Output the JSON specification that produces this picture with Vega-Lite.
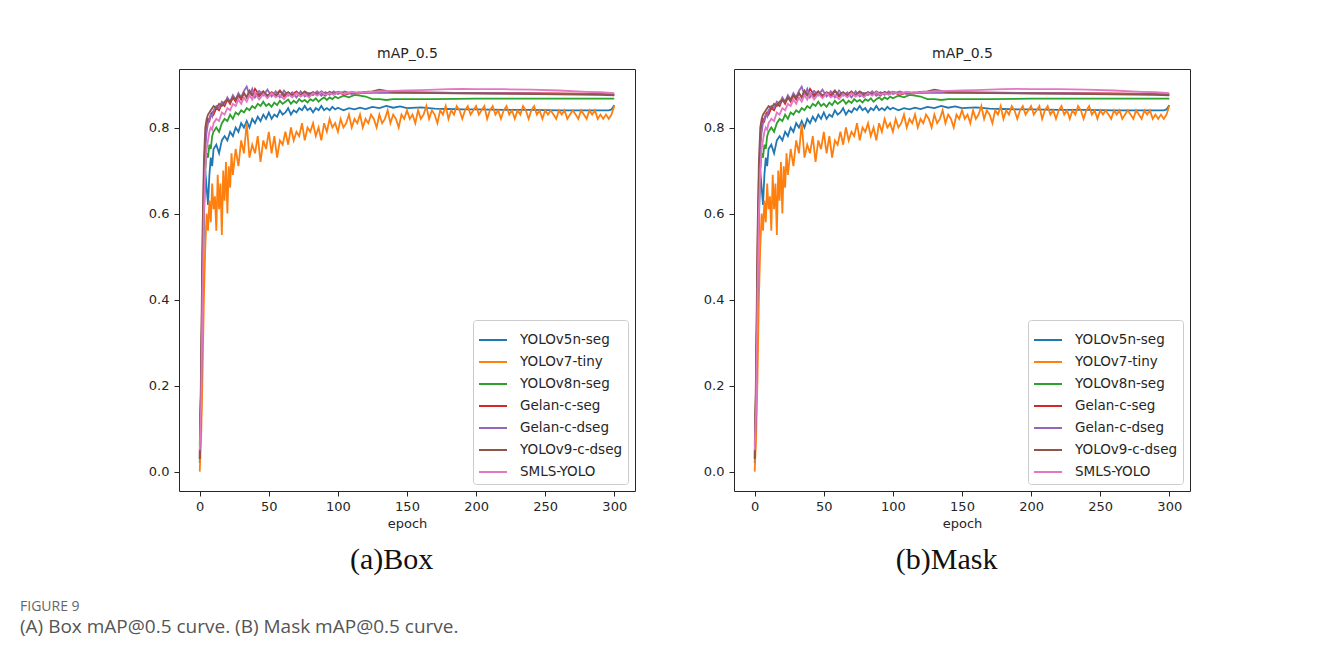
{
"$schema": "https://vega.github.io/schema/vega-lite/v6.json",
"background": "white",
"padding": {"left": 20, "top": 45, "right": 10, "bottom": 10},
"datasets": {
"models": [
{"s":"A","model":"YOLOv5n-seg"},{"s":"B","model":"YOLOv7-tiny"},{"s":"C","model":"YOLOv8n-seg"},{"s":"D","model":"Gelan-c-seg"},{"s":"E","model":"Gelan-c-dseg"},{"s":"F","model":"YOLOv9-c-dseg"},{"s":"G","model":"SMLS-YOLO"}
],
"curves": [
{"s":"A","e":0,"v":0.02},{"s":"A","e":1,"v":0.12},{"s":"A","e":2,"v":0.35},{"s":"A","e":3,"v":0.58},{"s":"A","e":4,"v":0.70},{"s":"A","e":5,"v":0.66},{"s":"A","e":6,"v":0.62},{"s":"A","e":7,"v":0.69},{"s":"A","e":8,"v":0.73},{"s":"A","e":9,"v":0.71},{"s":"A","e":10,"v":0.75},{"s":"A","e":12,"v":0.76},{"s":"A","e":14,"v":0.74},{"s":"A","e":16,"v":0.77},{"s":"A","e":18,"v":0.78},{"s":"A","e":20,"v":0.77},{"s":"A","e":22,"v":0.79},{"s":"A","e":24,"v":0.78},{"s":"A","e":26,"v":0.80},{"s":"A","e":28,"v":0.79},{"s":"A","e":30,"v":0.81},{"s":"A","e":32,"v":0.80},{"s":"A","e":34,"v":0.815},{"s":"A","e":36,"v":0.80},{"s":"A","e":38,"v":0.82},{"s":"A","e":40,"v":0.81},{"s":"A","e":42,"v":0.825},{"s":"A","e":44,"v":0.815},{"s":"A","e":46,"v":0.83},{"s":"A","e":48,"v":0.82},{"s":"A","e":50,"v":0.835},{"s":"A","e":52,"v":0.82},{"s":"A","e":54,"v":0.83},{"s":"A","e":56,"v":0.825},{"s":"A","e":58,"v":0.84},{"s":"A","e":60,"v":0.83},{"s":"A","e":62,"v":0.835},{"s":"A","e":64,"v":0.845},{"s":"A","e":66,"v":0.83},{"s":"A","e":68,"v":0.84},{"s":"A","e":70,"v":0.835},{"s":"A","e":72,"v":0.845},{"s":"A","e":74,"v":0.84},{"s":"A","e":76,"v":0.85},{"s":"A","e":78,"v":0.84},{"s":"A","e":80,"v":0.845},{"s":"A","e":82,"v":0.835},{"s":"A","e":84,"v":0.845},{"s":"A","e":86,"v":0.84},{"s":"A","e":88,"v":0.85},{"s":"A","e":90,"v":0.84},{"s":"A","e":92,"v":0.845},{"s":"A","e":94,"v":0.84},{"s":"A","e":96,"v":0.848},{"s":"A","e":98,"v":0.842},{"s":"A","e":100,"v":0.846},{"s":"A","e":104,"v":0.84},{"s":"A","e":108,"v":0.845},{"s":"A","e":112,"v":0.842},{"s":"A","e":116,"v":0.846},{"s":"A","e":120,"v":0.843},{"s":"A","e":125,"v":0.848},{"s":"A","e":130,"v":0.845},{"s":"A","e":135,"v":0.85},{"s":"A","e":140,"v":0.846},{"s":"A","e":145,"v":0.849},{"s":"A","e":150,"v":0.845},{"s":"A","e":160,"v":0.847},{"s":"A","e":170,"v":0.844},{"s":"A","e":180,"v":0.843},{"s":"A","e":190,"v":0.842},{"s":"A","e":200,"v":0.842},{"s":"A","e":220,"v":0.841},{"s":"A","e":240,"v":0.841},{"s":"A","e":260,"v":0.84},{"s":"A","e":280,"v":0.84},{"s":"A","e":296,"v":0.84},{"s":"A","e":298,"v":0.842},{"s":"A","e":300,"v":0.852},
{"s":"B","e":0,"v":0.0},{"s":"B","e":1,"v":0.08},{"s":"B","e":2,"v":0.22},{"s":"B","e":3,"v":0.40},{"s":"B","e":4,"v":0.52},{"s":"B","e":5,"v":0.60},{"s":"B","e":6,"v":0.56},{"s":"B","e":7,"v":0.63},{"s":"B","e":8,"v":0.58},{"s":"B","e":9,"v":0.67},{"s":"B","e":10,"v":0.61},{"s":"B","e":11,"v":0.64},{"s":"B","e":12,"v":0.56},{"s":"B","e":13,"v":0.69},{"s":"B","e":14,"v":0.61},{"s":"B","e":15,"v":0.67},{"s":"B","e":16,"v":0.55},{"s":"B","e":17,"v":0.70},{"s":"B","e":18,"v":0.63},{"s":"B","e":19,"v":0.72},{"s":"B","e":20,"v":0.60},{"s":"B","e":21,"v":0.71},{"s":"B","e":22,"v":0.66},{"s":"B","e":23,"v":0.74},{"s":"B","e":24,"v":0.69},{"s":"B","e":26,"v":0.75},{"s":"B","e":28,"v":0.71},{"s":"B","e":30,"v":0.77},{"s":"B","e":32,"v":0.74},{"s":"B","e":34,"v":0.81},{"s":"B","e":36,"v":0.73},{"s":"B","e":38,"v":0.76},{"s":"B","e":40,"v":0.74},{"s":"B","e":42,"v":0.78},{"s":"B","e":44,"v":0.72},{"s":"B","e":46,"v":0.77},{"s":"B","e":48,"v":0.75},{"s":"B","e":50,"v":0.79},{"s":"B","e":52,"v":0.74},{"s":"B","e":54,"v":0.78},{"s":"B","e":56,"v":0.73},{"s":"B","e":58,"v":0.77},{"s":"B","e":60,"v":0.76},{"s":"B","e":62,"v":0.79},{"s":"B","e":64,"v":0.76},{"s":"B","e":66,"v":0.80},{"s":"B","e":68,"v":0.77},{"s":"B","e":70,"v":0.79},{"s":"B","e":72,"v":0.78},{"s":"B","e":74,"v":0.81},{"s":"B","e":76,"v":0.77},{"s":"B","e":78,"v":0.80},{"s":"B","e":80,"v":0.79},{"s":"B","e":82,"v":0.81},{"s":"B","e":84,"v":0.78},{"s":"B","e":86,"v":0.80},{"s":"B","e":88,"v":0.77},{"s":"B","e":90,"v":0.81},{"s":"B","e":92,"v":0.79},{"s":"B","e":94,"v":0.82},{"s":"B","e":96,"v":0.80},{"s":"B","e":98,"v":0.81},{"s":"B","e":100,"v":0.79},{"s":"B","e":102,"v":0.82},{"s":"B","e":104,"v":0.80},{"s":"B","e":106,"v":0.81},{"s":"B","e":108,"v":0.83},{"s":"B","e":110,"v":0.80},{"s":"B","e":112,"v":0.82},{"s":"B","e":114,"v":0.81},{"s":"B","e":116,"v":0.83},{"s":"B","e":118,"v":0.80},{"s":"B","e":120,"v":0.82},{"s":"B","e":122,"v":0.81},{"s":"B","e":124,"v":0.83},{"s":"B","e":126,"v":0.82},{"s":"B","e":128,"v":0.80},{"s":"B","e":130,"v":0.83},{"s":"B","e":132,"v":0.81},{"s":"B","e":134,"v":0.82},{"s":"B","e":136,"v":0.84},{"s":"B","e":138,"v":0.81},{"s":"B","e":140,"v":0.83},{"s":"B","e":142,"v":0.82},{"s":"B","e":144,"v":0.80},{"s":"B","e":146,"v":0.83},{"s":"B","e":148,"v":0.82},{"s":"B","e":150,"v":0.84},{"s":"B","e":152,"v":0.82},{"s":"B","e":154,"v":0.83},{"s":"B","e":156,"v":0.81},{"s":"B","e":158,"v":0.84},{"s":"B","e":160,"v":0.82},{"s":"B","e":162,"v":0.83},{"s":"B","e":164,"v":0.85},{"s":"B","e":166,"v":0.82},{"s":"B","e":168,"v":0.84},{"s":"B","e":170,"v":0.83},{"s":"B","e":172,"v":0.81},{"s":"B","e":174,"v":0.84},{"s":"B","e":176,"v":0.83},{"s":"B","e":178,"v":0.85},{"s":"B","e":180,"v":0.82},{"s":"B","e":182,"v":0.84},{"s":"B","e":184,"v":0.83},{"s":"B","e":186,"v":0.85},{"s":"B","e":188,"v":0.84},{"s":"B","e":190,"v":0.82},{"s":"B","e":192,"v":0.84},{"s":"B","e":194,"v":0.85},{"s":"B","e":196,"v":0.83},{"s":"B","e":198,"v":0.84},{"s":"B","e":200,"v":0.85},{"s":"B","e":202,"v":0.83},{"s":"B","e":204,"v":0.84},{"s":"B","e":206,"v":0.85},{"s":"B","e":208,"v":0.82},{"s":"B","e":210,"v":0.84},{"s":"B","e":212,"v":0.85},{"s":"B","e":214,"v":0.83},{"s":"B","e":216,"v":0.84},{"s":"B","e":218,"v":0.82},{"s":"B","e":220,"v":0.84},{"s":"B","e":222,"v":0.85},{"s":"B","e":224,"v":0.83},{"s":"B","e":226,"v":0.84},{"s":"B","e":228,"v":0.82},{"s":"B","e":230,"v":0.84},{"s":"B","e":232,"v":0.83},{"s":"B","e":234,"v":0.85},{"s":"B","e":236,"v":0.84},{"s":"B","e":238,"v":0.82},{"s":"B","e":240,"v":0.84},{"s":"B","e":242,"v":0.85},{"s":"B","e":244,"v":0.83},{"s":"B","e":246,"v":0.84},{"s":"B","e":248,"v":0.82},{"s":"B","e":250,"v":0.84},{"s":"B","e":252,"v":0.83},{"s":"B","e":254,"v":0.84},{"s":"B","e":256,"v":0.83},{"s":"B","e":258,"v":0.82},{"s":"B","e":260,"v":0.84},{"s":"B","e":262,"v":0.83},{"s":"B","e":264,"v":0.84},{"s":"B","e":266,"v":0.82},{"s":"B","e":268,"v":0.83},{"s":"B","e":270,"v":0.84},{"s":"B","e":272,"v":0.83},{"s":"B","e":274,"v":0.82},{"s":"B","e":276,"v":0.84},{"s":"B","e":278,"v":0.83},{"s":"B","e":280,"v":0.82},{"s":"B","e":282,"v":0.84},{"s":"B","e":284,"v":0.83},{"s":"B","e":286,"v":0.84},{"s":"B","e":288,"v":0.82},{"s":"B","e":290,"v":0.83},{"s":"B","e":292,"v":0.82},{"s":"B","e":294,"v":0.83},{"s":"B","e":296,"v":0.82},{"s":"B","e":298,"v":0.83},{"s":"B","e":300,"v":0.85},
{"s":"C","e":0,"v":0.06},{"s":"C","e":1,"v":0.20},{"s":"C","e":2,"v":0.45},{"s":"C","e":3,"v":0.62},{"s":"C","e":4,"v":0.70},{"s":"C","e":5,"v":0.74},{"s":"C","e":6,"v":0.73},{"s":"C","e":7,"v":0.76},{"s":"C","e":8,"v":0.75},{"s":"C","e":9,"v":0.78},{"s":"C","e":10,"v":0.79},{"s":"C","e":12,"v":0.80},{"s":"C","e":14,"v":0.79},{"s":"C","e":16,"v":0.81},{"s":"C","e":18,"v":0.82},{"s":"C","e":20,"v":0.815},{"s":"C","e":22,"v":0.83},{"s":"C","e":24,"v":0.82},{"s":"C","e":26,"v":0.835},{"s":"C","e":28,"v":0.83},{"s":"C","e":30,"v":0.84},{"s":"C","e":32,"v":0.835},{"s":"C","e":34,"v":0.845},{"s":"C","e":36,"v":0.84},{"s":"C","e":38,"v":0.85},{"s":"C","e":40,"v":0.845},{"s":"C","e":42,"v":0.855},{"s":"C","e":44,"v":0.85},{"s":"C","e":46,"v":0.86},{"s":"C","e":48,"v":0.85},{"s":"C","e":50,"v":0.855},{"s":"C","e":52,"v":0.848},{"s":"C","e":54,"v":0.858},{"s":"C","e":56,"v":0.852},{"s":"C","e":58,"v":0.862},{"s":"C","e":60,"v":0.855},{"s":"C","e":62,"v":0.86},{"s":"C","e":64,"v":0.865},{"s":"C","e":66,"v":0.855},{"s":"C","e":68,"v":0.862},{"s":"C","e":70,"v":0.857},{"s":"C","e":72,"v":0.866},{"s":"C","e":74,"v":0.86},{"s":"C","e":76,"v":0.864},{"s":"C","e":78,"v":0.858},{"s":"C","e":80,"v":0.866},{"s":"C","e":82,"v":0.862},{"s":"C","e":84,"v":0.868},{"s":"C","e":86,"v":0.86},{"s":"C","e":88,"v":0.866},{"s":"C","e":90,"v":0.87},{"s":"C","e":92,"v":0.864},{"s":"C","e":94,"v":0.87},{"s":"C","e":96,"v":0.866},{"s":"C","e":98,"v":0.872},{"s":"C","e":100,"v":0.868},{"s":"C","e":104,"v":0.874},{"s":"C","e":108,"v":0.87},{"s":"C","e":112,"v":0.876},{"s":"C","e":116,"v":0.874},{"s":"C","e":120,"v":0.872},{"s":"C","e":125,"v":0.866},{"s":"C","e":130,"v":0.866},{"s":"C","e":135,"v":0.864},{"s":"C","e":140,"v":0.866},{"s":"C","e":150,"v":0.866},{"s":"C","e":170,"v":0.866},{"s":"C","e":200,"v":0.867},{"s":"C","e":230,"v":0.867},{"s":"C","e":260,"v":0.867},{"s":"C","e":300,"v":0.867},
{"s":"D","e":0,"v":0.03},{"s":"D","e":1,"v":0.20},{"s":"D","e":2,"v":0.50},{"s":"D","e":3,"v":0.68},{"s":"D","e":4,"v":0.77},{"s":"D","e":5,"v":0.80},{"s":"D","e":6,"v":0.82},{"s":"D","e":7,"v":0.815},{"s":"D","e":8,"v":0.83},{"s":"D","e":9,"v":0.835},{"s":"D","e":10,"v":0.83},{"s":"D","e":12,"v":0.845},{"s":"D","e":14,"v":0.84},{"s":"D","e":16,"v":0.855},{"s":"D","e":18,"v":0.85},{"s":"D","e":20,"v":0.865},{"s":"D","e":22,"v":0.855},{"s":"D","e":24,"v":0.87},{"s":"D","e":26,"v":0.86},{"s":"D","e":28,"v":0.875},{"s":"D","e":30,"v":0.865},{"s":"D","e":32,"v":0.88},{"s":"D","e":34,"v":0.87},{"s":"D","e":36,"v":0.885},{"s":"D","e":38,"v":0.875},{"s":"D","e":40,"v":0.89},{"s":"D","e":43,"v":0.876},{"s":"D","e":46,"v":0.884},{"s":"D","e":49,"v":0.872},{"s":"D","e":52,"v":0.882},{"s":"D","e":55,"v":0.876},{"s":"D","e":58,"v":0.886},{"s":"D","e":61,"v":0.872},{"s":"D","e":64,"v":0.88},{"s":"D","e":67,"v":0.876},{"s":"D","e":70,"v":0.884},{"s":"D","e":73,"v":0.874},{"s":"D","e":76,"v":0.88},{"s":"D","e":79,"v":0.872},{"s":"D","e":82,"v":0.882},{"s":"D","e":85,"v":0.878},{"s":"D","e":88,"v":0.88},{"s":"D","e":91,"v":0.874},{"s":"D","e":94,"v":0.883},{"s":"D","e":97,"v":0.877},{"s":"D","e":100,"v":0.882},{"s":"D","e":105,"v":0.876},{"s":"D","e":110,"v":0.881},{"s":"D","e":115,"v":0.879},{"s":"D","e":120,"v":0.882},{"s":"D","e":130,"v":0.881},{"s":"D","e":140,"v":0.882},{"s":"D","e":150,"v":0.881},{"s":"D","e":170,"v":0.881},{"s":"D","e":200,"v":0.88},{"s":"D","e":230,"v":0.88},{"s":"D","e":260,"v":0.879},{"s":"D","e":290,"v":0.878},{"s":"D","e":300,"v":0.877},
{"s":"E","e":0,"v":0.04},{"s":"E","e":1,"v":0.18},{"s":"E","e":2,"v":0.45},{"s":"E","e":3,"v":0.65},{"s":"E","e":4,"v":0.75},{"s":"E","e":5,"v":0.79},{"s":"E","e":6,"v":0.81},{"s":"E","e":7,"v":0.82},{"s":"E","e":8,"v":0.83},{"s":"E","e":9,"v":0.825},{"s":"E","e":10,"v":0.84},{"s":"E","e":12,"v":0.85},{"s":"E","e":14,"v":0.845},{"s":"E","e":16,"v":0.86},{"s":"E","e":18,"v":0.855},{"s":"E","e":20,"v":0.87},{"s":"E","e":22,"v":0.86},{"s":"E","e":24,"v":0.875},{"s":"E","e":26,"v":0.865},{"s":"E","e":28,"v":0.88},{"s":"E","e":30,"v":0.87},{"s":"E","e":32,"v":0.885},{"s":"E","e":34,"v":0.895},{"s":"E","e":36,"v":0.875},{"s":"E","e":38,"v":0.89},{"s":"E","e":40,"v":0.87},{"s":"E","e":43,"v":0.885},{"s":"E","e":46,"v":0.875},{"s":"E","e":49,"v":0.888},{"s":"E","e":52,"v":0.872},{"s":"E","e":55,"v":0.884},{"s":"E","e":58,"v":0.87},{"s":"E","e":61,"v":0.886},{"s":"E","e":64,"v":0.874},{"s":"E","e":67,"v":0.882},{"s":"E","e":70,"v":0.87},{"s":"E","e":73,"v":0.884},{"s":"E","e":76,"v":0.872},{"s":"E","e":79,"v":0.88},{"s":"E","e":82,"v":0.875},{"s":"E","e":85,"v":0.884},{"s":"E","e":88,"v":0.874},{"s":"E","e":91,"v":0.882},{"s":"E","e":94,"v":0.876},{"s":"E","e":97,"v":0.884},{"s":"E","e":100,"v":0.878},{"s":"E","e":105,"v":0.884},{"s":"E","e":110,"v":0.878},{"s":"E","e":115,"v":0.882},{"s":"E","e":120,"v":0.88},{"s":"E","e":130,"v":0.882},{"s":"E","e":140,"v":0.881},{"s":"E","e":150,"v":0.882},{"s":"E","e":170,"v":0.881},{"s":"E","e":200,"v":0.88},{"s":"E","e":230,"v":0.879},{"s":"E","e":260,"v":0.878},{"s":"E","e":290,"v":0.877},{"s":"E","e":300,"v":0.876},
{"s":"F","e":0,"v":0.03},{"s":"F","e":1,"v":0.25},{"s":"F","e":2,"v":0.55},{"s":"F","e":3,"v":0.72},{"s":"F","e":4,"v":0.80},{"s":"F","e":5,"v":0.82},{"s":"F","e":6,"v":0.83},{"s":"F","e":7,"v":0.835},{"s":"F","e":8,"v":0.84},{"s":"F","e":9,"v":0.845},{"s":"F","e":10,"v":0.85},{"s":"F","e":12,"v":0.845},{"s":"F","e":14,"v":0.855},{"s":"F","e":16,"v":0.85},{"s":"F","e":18,"v":0.86},{"s":"F","e":20,"v":0.865},{"s":"F","e":22,"v":0.86},{"s":"F","e":24,"v":0.87},{"s":"F","e":26,"v":0.865},{"s":"F","e":28,"v":0.875},{"s":"F","e":30,"v":0.87},{"s":"F","e":32,"v":0.88},{"s":"F","e":34,"v":0.87},{"s":"F","e":36,"v":0.885},{"s":"F","e":38,"v":0.875},{"s":"F","e":40,"v":0.88},{"s":"F","e":43,"v":0.872},{"s":"F","e":46,"v":0.882},{"s":"F","e":49,"v":0.875},{"s":"F","e":52,"v":0.88},{"s":"F","e":55,"v":0.872},{"s":"F","e":58,"v":0.884},{"s":"F","e":61,"v":0.876},{"s":"F","e":64,"v":0.882},{"s":"F","e":67,"v":0.874},{"s":"F","e":70,"v":0.88},{"s":"F","e":73,"v":0.876},{"s":"F","e":76,"v":0.884},{"s":"F","e":79,"v":0.878},{"s":"F","e":82,"v":0.882},{"s":"F","e":85,"v":0.876},{"s":"F","e":88,"v":0.884},{"s":"F","e":91,"v":0.878},{"s":"F","e":94,"v":0.882},{"s":"F","e":97,"v":0.878},{"s":"F","e":100,"v":0.883},{"s":"F","e":105,"v":0.879},{"s":"F","e":110,"v":0.882},{"s":"F","e":115,"v":0.88},{"s":"F","e":120,"v":0.883},{"s":"F","e":125,"v":0.884},{"s":"F","e":130,"v":0.888},{"s":"F","e":135,"v":0.885},{"s":"F","e":140,"v":0.882},{"s":"F","e":150,"v":0.881},{"s":"F","e":170,"v":0.88},{"s":"F","e":200,"v":0.879},{"s":"F","e":230,"v":0.878},{"s":"F","e":260,"v":0.877},{"s":"F","e":290,"v":0.876},{"s":"F","e":300,"v":0.875},
{"s":"G","e":0,"v":0.05},{"s":"G","e":1,"v":0.15},{"s":"G","e":2,"v":0.40},{"s":"G","e":3,"v":0.60},{"s":"G","e":4,"v":0.70},{"s":"G","e":5,"v":0.75},{"s":"G","e":6,"v":0.77},{"s":"G","e":7,"v":0.79},{"s":"G","e":8,"v":0.80},{"s":"G","e":9,"v":0.795},{"s":"G","e":10,"v":0.81},{"s":"G","e":12,"v":0.82},{"s":"G","e":14,"v":0.815},{"s":"G","e":16,"v":0.835},{"s":"G","e":18,"v":0.83},{"s":"G","e":20,"v":0.845},{"s":"G","e":22,"v":0.84},{"s":"G","e":24,"v":0.855},{"s":"G","e":26,"v":0.85},{"s":"G","e":28,"v":0.865},{"s":"G","e":30,"v":0.855},{"s":"G","e":32,"v":0.87},{"s":"G","e":34,"v":0.86},{"s":"G","e":36,"v":0.875},{"s":"G","e":38,"v":0.865},{"s":"G","e":40,"v":0.88},{"s":"G","e":43,"v":0.865},{"s":"G","e":46,"v":0.878},{"s":"G","e":49,"v":0.868},{"s":"G","e":52,"v":0.88},{"s":"G","e":55,"v":0.87},{"s":"G","e":58,"v":0.876},{"s":"G","e":61,"v":0.866},{"s":"G","e":64,"v":0.878},{"s":"G","e":67,"v":0.87},{"s":"G","e":70,"v":0.88},{"s":"G","e":73,"v":0.872},{"s":"G","e":76,"v":0.878},{"s":"G","e":79,"v":0.87},{"s":"G","e":82,"v":0.88},{"s":"G","e":85,"v":0.874},{"s":"G","e":88,"v":0.882},{"s":"G","e":91,"v":0.876},{"s":"G","e":94,"v":0.88},{"s":"G","e":97,"v":0.876},{"s":"G","e":100,"v":0.882},{"s":"G","e":105,"v":0.878},{"s":"G","e":110,"v":0.883},{"s":"G","e":115,"v":0.88},{"s":"G","e":120,"v":0.882},{"s":"G","e":130,"v":0.884},{"s":"G","e":140,"v":0.885},{"s":"G","e":150,"v":0.886},{"s":"G","e":160,"v":0.887},{"s":"G","e":170,"v":0.888},{"s":"G","e":180,"v":0.889},{"s":"G","e":190,"v":0.89},{"s":"G","e":200,"v":0.889},{"s":"G","e":220,"v":0.889},{"s":"G","e":240,"v":0.888},{"s":"G","e":260,"v":0.886},{"s":"G","e":280,"v":0.883},{"s":"G","e":290,"v":0.882},{"s":"G","e":300,"v":0.88}
]
},
"title": {
"text": "FIGURE 9",
"subtitle": "(A) Box mAP@0.5 curve. (B) Mask mAP@0.5 curve.",
"orient": "bottom",
"anchor": "start",
"frame": "group",
"dx": -159,
"offset": 24,
"font": "Open Sans",
"fontSize": 14,
"fontWeight": "normal",
"color": "#666666",
"subtitleFont": "Open Sans",
"subtitleFontSize": 19,
"subtitleColor": "#555555",
"subtitlePadding": 4
},
"spacing": 66,
"hconcat": [
{
"width": 456, "height": 422,
"title": {"text": "(a)Box", "orient": "bottom", "font": "Liberation Serif", "fontSize": 30, "fontWeight": "normal", "color": "#111111", "offset": 15, "frame": "bounds"},
"data": {"name": "curves"},
"transform": [{"lookup": "s", "from": {"data": {"name": "models"}, "key": "s", "fields": ["model"]}}],
"layer": [
{
"mark": {"type": "line", "strokeWidth": 1.8},
"encoding": {
"x": {"field": "e", "type": "quantitative", "scale": {"domain": [-15, 315], "nice": false, "zero": false}, "axis": {"values": [0, 50, 100, 150, 200, 250, 300], "title": "epoch"}},
"y": {"field": "v", "type": "quantitative", "scale": {"domain": [-0.045, 0.936], "nice": false}, "axis": {"values": [0, 0.2, 0.4, 0.6, 0.8], "format": ".1f", "title": null, "labelPadding": 5}},
"color": {"field": "model", "type": "nominal",
"scale": {"domain": ["YOLOv5n-seg", "YOLOv7-tiny", "YOLOv8n-seg", "Gelan-c-seg", "Gelan-c-dseg", "YOLOv9-c-dseg", "SMLS-YOLO"], "range": ["#1f77b4", "#ff7f0e", "#2ca02c", "#d62728", "#9467bd", "#8c564b", "#e377c2"]},
"legend": {"title": null, "orient": "bottom-right", "offset": 7}}
}
},
{
"mark": {"type": "line", "strokeOpacity": 0},
"encoding": {
"x": {"field": "e", "type": "quantitative", "scale": {"domain": [-15, 315], "nice": false, "zero": false}, "axis": {"orient": "top", "title": "mAP_0.5", "titleFontSize": 14, "labels": false, "ticks": false, "titlePadding": 9}},
"y": {"field": "v", "type": "quantitative"},
"detail": {"field": "s"}
}
}
],
"resolve": {"axis": {"x": "independent"}}
},
{
"width": 456, "height": 422,
"title": {"text": "(b)Mask", "orient": "bottom", "font": "Liberation Serif", "fontSize": 30, "fontWeight": "normal", "color": "#111111", "offset": 15, "frame": "bounds"},
"data": {"name": "curves"},
"transform": [{"lookup": "s", "from": {"data": {"name": "models"}, "key": "s", "fields": ["model"]}}],
"layer": [
{
"mark": {"type": "line", "strokeWidth": 1.8},
"encoding": {
"x": {"field": "e", "type": "quantitative", "scale": {"domain": [-15, 315], "nice": false, "zero": false}, "axis": {"values": [0, 50, 100, 150, 200, 250, 300], "title": "epoch"}},
"y": {"field": "v", "type": "quantitative", "scale": {"domain": [-0.045, 0.936], "nice": false}, "axis": {"values": [0, 0.2, 0.4, 0.6, 0.8], "format": ".1f", "title": null, "labelPadding": 5}},
"color": {"field": "model", "type": "nominal",
"scale": {"domain": ["YOLOv5n-seg", "YOLOv7-tiny", "YOLOv8n-seg", "Gelan-c-seg", "Gelan-c-dseg", "YOLOv9-c-dseg", "SMLS-YOLO"], "range": ["#1f77b4", "#ff7f0e", "#2ca02c", "#d62728", "#9467bd", "#8c564b", "#e377c2"]},
"legend": {"title": null, "orient": "bottom-right", "offset": 7}}
}
},
{
"mark": {"type": "line", "strokeOpacity": 0},
"encoding": {
"x": {"field": "e", "type": "quantitative", "scale": {"domain": [-15, 315], "nice": false, "zero": false}, "axis": {"orient": "top", "title": "mAP_0.5", "titleFontSize": 14, "labels": false, "ticks": false, "titlePadding": 9}},
"y": {"field": "v", "type": "quantitative"},
"detail": {"field": "s"}
}
}
],
"resolve": {"axis": {"x": "independent"}}
}
],
"resolve": {"scale": {"color": "independent"}, "legend": {"color": "independent"}},
"config": {
"font": "DejaVu Sans",
"view": {"stroke": "#262626", "strokeWidth": 1},
"axis": {"domain": false, "grid": false, "tickColor": "#262626", "tickSize": 5, "labelFont": "DejaVu Sans", "labelFontSize": 13, "labelColor": "#262626", "labelPadding": 4, "titleFont": "DejaVu Sans", "titleFontSize": 13, "titleFontWeight": "normal", "titleColor": "#262626", "titlePadding": 4},
"title": {"font": "DejaVu Sans", "fontSize": 13, "fontWeight": "normal", "color": "#262626"},
"legend": {"symbolType": "stroke", "symbolSize": 784, "symbolStrokeWidth": 2, "rowPadding": -6.7, "labelFont": "DejaVu Sans", "labelFontSize": 13.5, "labelColor": "#262626", "labelOffset": 12, "padding": 5, "strokeColor": "#cccccc", "fillColor": "rgba(255,255,255,0.8)", "cornerRadius": 3}
}
}
